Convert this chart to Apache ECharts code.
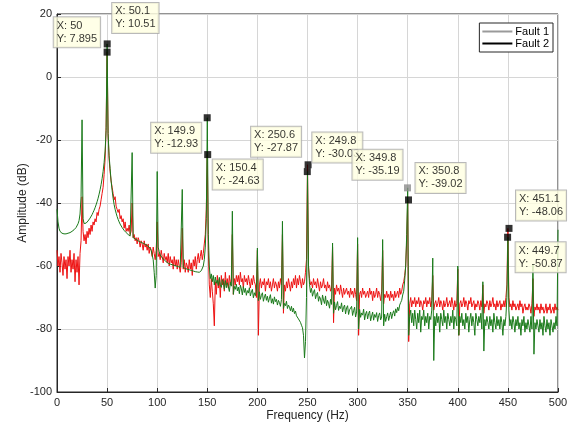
<!DOCTYPE html>
<html><head><meta charset="utf-8">
<script src="https://cdn.jsdelivr.net/npm/echarts@6/dist/echarts.min.js"></script>
<style>html,body{margin:0;padding:0;background:#fff}#c{width:573px;height:429px}</style>
</head><body><div id="c"></div>
<script>
// Frequency resolution of the spectra (Hz per sample)
const FREQ_STEP = 1;
const seriesNames = ['Fault 1', 'Fault 2'];
const xTicks = [0, 50, 100, 150, 200, 250, 300, 350, 400, 450, 500];
const yTicks = [-100, -80, -60, -40, -20, 0, 20];

// Fault 1 amplitude (dB), 0..500 Hz
const fault1Amp = [
-55,-60,-57,-62,-56,-59,-63,-57,-61,-58,
-64,-57,-60,-55,-62,-58,-61,-56,-65,-58,
-62,-57,-66,-56,-52,-38,-49,-52,-50,-53,
-49,-51,-48,-50,-47,-49,-46,-47,-45,-46,
-43,-44,-42,-41,-39,-37,-35,-31,-26,-16,
7.895,-18,-26,-30,-33,-35,-37,-39,-38,-41,
-42,-43,-42,-45,-44,-46,-45,-48,-46,-49,
-48,-49,-47,-50,-49,-40,-51,-50,-52,-51,
-53,-51,-52,-54,-52,-53,-55,-52,-54,-53,
-55,-53,-56,-54,-55,-57,-54,-56,-58,-55,
-46,-57,-56,-58,-55,-57,-59,-56,-58,-57,
-59,-56,-60,-57,-59,-58,-61,-57,-60,-58,
-61,-58,-60,-62,-59,-48,-61,-58,-62,-59,
-60,-62,-58,-61,-59,-63,-58,-60,-57,-61,
-58,-56,-59,-57,-55,-58,-56,-53,-50,-42,
-24.63,-55,-66,-70,-64,-68,-72,-79,-65,-69,
-63,-67,-64,-70,-63,-66,-64,-68,-62,-66,
-64,-67,-63,-66,-64,-50,-69,-64,-66,-63,
-65,-63,-66,-62,-65,-64,-67,-63,-65,-64,
-66,-63,-65,-67,-64,-66,-63,-65,-66,-70,
-55,-82,-66,-64,-67,-65,-66,-64,-68,-65,
-66,-64,-67,-65,-68,-66,-64,-67,-65,-66,
-68,-65,-67,-64,-66,-50,-75,-66,-68,-65,
-67,-64,-66,-68,-65,-67,-64,-66,-63,-67,
-64,-66,-63,-65,-67,-64,-66,-65,-62,-58,
-27.87,-60,-64,-66,-65,-67,-64,-66,-65,-67,
-64,-66,-68,-65,-67,-66,-64,-67,-66,-68,
-65,-67,-66,-68,-67,-54,-78,-67,-69,-66,
-68,-67,-69,-66,-68,-70,-67,-69,-68,-67,
-69,-68,-70,-67,-69,-68,-70,-67,-69,-71,
-53,-82,-69,-68,-70,-67,-69,-68,-70,-69,
-68,-70,-67,-69,-68,-71,-68,-70,-69,-67,
-70,-68,-69,-71,-68,-55,-72,-69,-70,-68,
-70,-69,-71,-68,-70,-69,-71,-68,-70,-69,
-68,-70,-67,-69,-68,-66,-65,-63,-60,-52,
-39.02,-84,-72,-70,-73,-71,-72,-70,-73,-71,
-72,-70,-73,-71,-72,-74,-71,-72,-70,-73,
-71,-72,-70,-73,-71,-63,-74,-72,-71,-73,
-72,-70,-73,-71,-72,-74,-71,-73,-72,-70,
-73,-72,-71,-73,-70,-72,-74,-71,-73,-72,
-61,-82,-72,-71,-73,-72,-70,-73,-71,-72,
-74,-71,-72,-70,-73,-72,-71,-74,-72,-73,
-71,-72,-74,-71,-73,-66,-75,-72,-73,-71,
-72,-74,-71,-73,-72,-70,-73,-72,-74,-71,
-73,-72,-71,-74,-72,-73,-71,-73,-70,-66,
-48.06,-70,-73,-72,-74,-71,-73,-72,-74,-73,
-72,-74,-71,-73,-72,-75,-73,-72,-74,-73,
-74,-72,-73,-75,-72,-64,-76,-73,-74,-72,
-74,-73,-75,-72,-74,-73,-75,-74,-72,-75,
-73,-74,-72,-75,-74,-73,-75,-72,-74,-73,
-74
];

// Fault 2 amplitude (dB), 0..500 Hz
const fault2Amp = [
-42,-46,-48,-49,-49.5,-49.6,-49.7,-49.8,-49.8,-49.8,
-49.7,-49.6,-49.5,-49.4,-49.2,-49,-48.8,-48.5,-48.2,-47.8,
-47.3,-46.6,-45.6,-43.5,-38,-13.6,-45,-46.5,-46.6,-46.4,
-46.1,-45.7,-45.3,-44.8,-44.3,-43.7,-43,-42.3,-41.5,-40.6,
-39.6,-38.5,-37.2,-35.8,-34.2,-32.3,-30,-27.2,-23.5,-17,
10.51,-18,-25,-29,-33,-36,-38.5,-40.5,-42,-43.2,
-44.3,-45.2,-46,-46.7,-47.3,-47.8,-48.3,-48.7,-49.1,-49.4,
-49.7,-50,-50.2,-50.5,-50.7,-24,-51,-51.2,-51.4,-51.6,
-51.8,-52,-52.2,-52.3,-52.5,-52.7,-52.8,-53,-53.1,-53.3,
-53.5,-53.7,-54,-54.5,-55,-56.5,-58,-62,-67,-63,
-30,-54,-55.5,-56.5,-57,-57.4,-57.8,-58.1,-58.4,-58.6,
-58.8,-59.2,-58.9,-59.4,-59.1,-59.6,-59.3,-59.8,-59.5,-60,
-59.7,-60.2,-59.9,-60.4,-60.1,-35.7,-60.5,-60.3,-60.8,-60.5,
-61,-60.7,-61.2,-60.9,-61.4,-61.1,-61.6,-61.3,-61.8,-61.5,
-61.9,-61.6,-62,-61.7,-61.5,-61,-60,-58,-54,-45,
-12.93,-50,-60,-64,-62.5,-65,-63,-66,-63.5,-65.5,
-64.5,-66.2,-63.6,-65.9,-66.8,-64.3,-65.1,-67.4,-64.6,-66.9,
-65.3,-66.6,-68.1,-65.2,-66.4,-42.6,-69,-66.5,-67.4,-65.8,
-67.9,-66.7,-68.8,-66.1,-67.3,-69.2,-66.5,-68.4,-67.1,-69.3,
-67.8,-68.6,-66.9,-69.5,-68.2,-67.4,-70.1,-68.5,-69.4,-67.6,
-54.3,-71,-68.2,-70.6,-69.3,-68.5,-71.2,-69.8,-68.9,-70.9,
-69.6,-71.5,-70.2,-69.1,-71.8,-70.4,-72.1,-69.8,-71.3,-70.6,
-72.4,-70.9,-71.6,-72.8,-70.7,-45.8,-73.5,-71.9,-72.6,-71.2,
-73.5,-72.4,-73.1,-74.2,-72.8,-74.6,-73.4,-75.1,-74.3,-75.8,
-75.5,-76.8,-76.2,-77.9,-78.8,-79.6,-82,-89.2,-84,-70,
-30.03,-60,-65.8,-68.4,-67.1,-69.6,-68.3,-67.5,-70.4,-69.1,
-68.4,-71.2,-69.7,-70.5,-72.3,-69.2,-70.8,-71.9,-69.5,-72.6,
-70.9,-71.8,-73.4,-70.6,-72.2,-52.7,-75,-71.4,-73.9,-72.5,
-71.3,-74.1,-72.8,-73.5,-71.7,-74.6,-73.1,-72.4,-75.2,-73.3,
-72.6,-75.4,-73.9,-74.5,-72.8,-75.7,-74.2,-73.1,-76.2,-74.6,
-51,-80,-73.8,-76.3,-74.9,-75.6,-73.7,-77.1,-75.2,-74.4,
-76.8,-75.1,-74.3,-77.4,-75.9,-74.6,-77.2,-75.4,-76.3,-74.8,
-77.6,-75.7,-74.9,-77.1,-76.2,-51.6,-79,-75.3,-77.6,-76.1,
-74.9,-77.3,-75.8,-74.6,-76.7,-75.1,-74.2,-75.9,-73.6,-74.8,
-73.1,-74.2,-72.4,-71.6,-70.9,-69.2,-68,-64.5,-60,-50,
-35.19,-82,-76,-74,-78,-75,-79,-74,-77,-80,
-75,-78,-74,-81,-76,-77,-74,-79,-76,-78,
-75,-80,-76,-77,-74,-57.5,-90,-76,-79,-75,
-78,-76,-81,-75,-77,-79,-74,-78,-76,-80,
-75,-77,-79,-76,-78,-74,-80,-76,-77,-79,
-60,-82,-76,-78,-75,-79,-77,-80,-75,-78,
-76,-81,-77,-75,-79,-76,-78,-82,-75,-77,
-79,-76,-78,-75,-80,-65,-87,-77,-79,-76,
-78,-80,-76,-79,-77,-81,-75,-78,-80,-76,
-79,-77,-80,-76,-78,-82,-77,-79,-76,-70,
-50.87,-74,-79,-77,-80,-76,-78,-81,-77,-79,
-76,-80,-78,-82,-77,-79,-76,-81,-78,-80,
-77,-79,-81,-76,-80,-59.6,-88,-78,-80,-77,
-79,-81,-77,-80,-78,-82,-76,-79,-81,-77,
-80,-78,-82,-77,-79,-81,-78,-80,-76,-79,
-48.5
];

// Data tips
const tipFreq = [50, 50.1, 149.9, 150.4, 250.6, 249.8, 349.8, 350.8, 451.1, 449.7];
const tipAmp  = [7.895, 10.51, -12.93, -24.63, -27.87, -30.03, -35.19, -39.02, -48.06, -50.87];

// layout of each tip box (style only): [side, verticalAlign, dx, dy, markerColor]
const tipPlace = [
  ['left','bottom',-5,-5,'#000'],
  ['right','bottom',5,-11,'#000'],
  ['left','top',-4,5,'#000'],
  ['right','top',5,5,'#000'],
  ['left','bottom',-5,-8,'#000'],
  ['right','bottom',5,-9,'#000'],
  ['left','bottom',-3,-8,'#8c8c8c'],
  ['right','bottom',7,-7,'#000'],
  ['right','bottom',7,-8,'#000'],
  ['right','top',8,5,'#000']
];

const FONT = 'Liberation Sans, Arial, Helvetica, sans-serif';
const FS = 11;
const PAD = [2, 3, 2, 3];
const SYM = 7;

const mctx = document.createElement('canvas').getContext('2d');
mctx.font = FS + 'px ' + FONT;
function boxWidth(lines) {
  return Math.max.apply(null, lines.map(s => mctx.measureText(s).width)) + PAD[1] + PAD[3] + 2;
}

const d1 = fault1Amp.map((a, i) => [i * FREQ_STEP, a]);
const d2 = fault2Amp.map((a, i) => [i * FREQ_STEP, a]);
const tips = tipFreq.map((f, i) => {
  const p = tipPlace[i];
  const lines = ['X: ' + f, 'Y: ' + tipAmp[i]];
  const w = boxWidth(lines);
  const dx = p[0] === 'left' ? p[2] - w : p[2];
  return {
    value: [f, tipAmp[i]],
    itemStyle: { color: p[4] },
    label: {
      show: true,
      position: [SYM / 2 + dx, SYM / 2 + p[3]],
      align: 'left',
      verticalAlign: p[1],
      formatter: lines.join('\n')
    }
  };
});

const chart = echarts.init(document.getElementById('c'), null, { renderer: 'canvas' });
const axisCommon = {
  axisLine: { show: true, onZero: false, lineStyle: { color: '#262626', width: 1 } },
  axisTick: { show: true, inside: true, length: 4, lineStyle: { color: '#262626' } },
  splitLine: { show: true, lineStyle: { color: '#d6d6d6', width: 1 } },
  nameTextStyle: { fontSize: 12, color: '#262626', fontFamily: FONT },
  nameMoveOverlap: false
};
chart.setOption({
  animation: false,
  backgroundColor: '#fff',
  grid: { left: 57, right: 15, top: 14, bottom: 37, show: true, borderColor: '#262626', borderWidth: 1, backgroundColor: 'transparent' },
  legend: {
    orient: 'vertical',
    right: 20,
    top: 23,
    data: [
      { name: seriesNames[0], itemStyle: { color: '#9a9a9a' } },
      { name: seriesNames[1], itemStyle: { color: '#000' } }
    ],
    icon: 'rect',
    itemWidth: 30,
    itemHeight: 2,
    itemGap: 1,
    padding: [3, 4, 3, 3],
    backgroundColor: '#fff',
    borderColor: '#262626',
    borderWidth: 1,
    borderRadius: 0,
    textStyle: { fontSize: 11, color: '#000', fontFamily: FONT, padding: [0, 0, 0, -2] }
  },
  xAxis: Object.assign({
    type: 'value', min: xTicks[0], max: xTicks[xTicks.length - 1], interval: xTicks[1] - xTicks[0],
    name: 'Frequency (Hz)', nameLocation: 'middle', nameGap: 18,
    axisLabel: { fontSize: 11, color: '#262626', fontFamily: FONT, margin: 5 }
  }, axisCommon),
  yAxis: Object.assign({
    type: 'value', min: yTicks[0], max: yTicks[yTicks.length - 1], interval: yTicks[1] - yTicks[0],
    name: 'Amplitude (dB)', nameLocation: 'middle', nameGap: 28, nameRotate: 90,
    axisLabel: { fontSize: 11, color: '#262626', fontFamily: FONT, margin: 5 }
  }, axisCommon),
  series: [
    { name: seriesNames[0], type: 'line', data: d1, symbol: 'none', lineStyle: { color: '#ee1111', width: 1 }, itemStyle: { color: '#ee1111' }, z: 2 },
    { name: seriesNames[1], type: 'line', data: d2, symbol: 'none', lineStyle: { color: '#1a7a1a', width: 1 }, itemStyle: { color: '#1a7a1a' }, z: 3 },
    {
      name: 'tips', type: 'scatter', data: tips, symbol: 'rect', symbolSize: SYM, z: 10,
      label: {
        show: true, fontSize: FS, lineHeight: 13, color: '#000', fontFamily: FONT,
        backgroundColor: '#ffffe1', borderColor: '#a8a8a8', borderWidth: 1, padding: PAD
      },
      labelLayout: { hideOverlap: false },
      emphasis: { disabled: true }
    }
  ]
});
</script>
</body></html>
